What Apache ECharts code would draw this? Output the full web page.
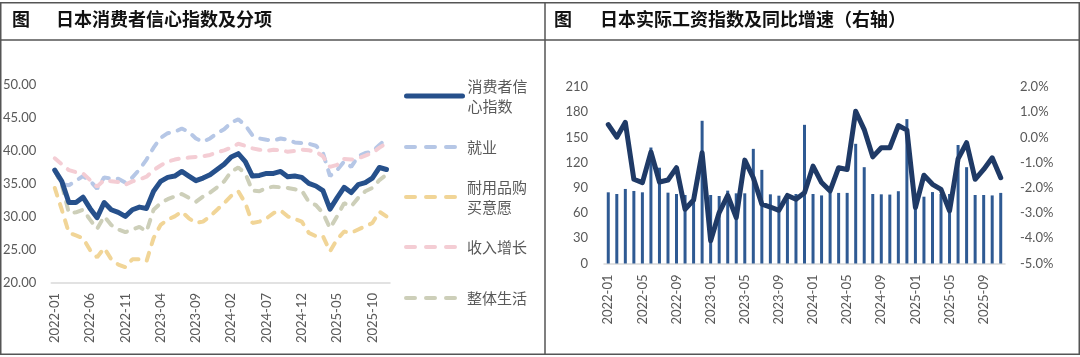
<!DOCTYPE html>
<html><head><meta charset="utf-8">
<script src="https://cdn.jsdelivr.net/npm/echarts@6/dist/echarts.min.js"></script>
<style>html,body{margin:0;padding:0;background:#fff}#c{width:1080px;height:357px}</style>
</head><body><div id="c"></div>
<script>
// ---------- Left chart: 日本消费者信心指数及分项 ----------
const leftMonths = ['2022-01','2022-02','2022-03','2022-04','2022-05','2022-06','2022-07','2022-08','2022-09','2022-10','2022-11','2022-12',
'2023-01','2023-02','2023-03','2023-04','2023-05','2023-06','2023-07','2023-08','2023-09','2023-10','2023-11','2023-12',
'2024-01','2024-02','2024-03','2024-04','2024-05','2024-06','2024-07','2024-08','2024-09','2024-10','2024-11','2024-12',
'2025-01','2025-02','2025-03','2025-04','2025-05','2025-06','2025-07','2025-08','2025-09','2025-10','2025-11','2025-12'];
const confidence = [37.1,35.4,32.2,32.2,33.0,31.3,29.9,32.2,31.1,30.7,30.1,31.1,31.5,31.3,33.9,35.4,36.0,36.2,36.9,36.2,35.5,35.9,36.4,37.2,38.0,39.1,39.6,38.4,36.2,36.3,36.6,36.6,36.9,36.1,36.2,36.0,35.1,34.7,34.0,31.2,32.9,34.5,33.7,34.9,35.2,35.9,37.5,37.2];
const employment = [37.0,35.0,34.8,35.5,36.2,35.5,34.3,36.0,35.8,35.8,35.2,36.0,37.2,38.7,40.5,42.0,42.7,42.9,43.4,42.9,41.9,41.4,41.9,42.7,43.3,44.3,44.8,43.9,42.4,41.9,41.7,41.6,41.9,41.7,41.3,41.2,41.1,40.8,39.7,36.2,37.1,38.4,37.6,39.2,39.7,39.9,40.9,41.9];
const durable = [34.4,31.1,27.6,27.2,26.8,25.0,23.9,25.3,23.6,22.8,22.4,23.6,23.6,23.3,26.8,28.8,29.6,30.1,30.8,29.8,29.1,29.3,30.1,31.1,32.1,33.2,33.9,32.1,29.1,29.3,29.8,30.6,31.0,30.1,29.7,29.3,27.6,27.1,27.1,24.8,26.6,27.8,27.6,28.1,28.6,29.1,30.8,30.1];
const income = [38.9,38.0,37.1,36.8,36.6,35.6,34.6,35.6,35.4,35.3,34.9,35.4,35.7,36.1,37.1,37.8,38.4,38.7,38.9,39.0,39.1,39.2,39.4,39.8,40.1,40.5,41.1,40.8,40.4,40.2,40.0,40.2,40.1,39.9,40.0,40.2,40.1,39.9,39.2,37.6,37.9,38.8,38.7,38.9,39.3,39.7,40.5,41.2];
const overall = [37.1,34.9,30.6,30.7,31.1,29.6,28.2,30.1,28.8,28.1,27.7,28.1,28.5,27.8,31.1,32.1,32.7,33.1,33.5,32.9,32.3,33.1,33.7,34.5,35.4,36.9,37.5,36.6,34.0,33.9,34.4,34.6,34.5,34.4,34.2,34.0,32.3,31.8,30.6,28.3,30.1,32.1,31.6,32.9,33.9,34.4,35.6,36.4];

// ---------- Right chart: 日本实际工资指数及同比增速 ----------
const rightMonths = ['2022-01','2022-02','2022-03','2022-04','2022-05','2022-06','2022-07','2022-08','2022-09','2022-10','2022-11','2022-12',
'2023-01','2023-02','2023-03','2023-04','2023-05','2023-06','2023-07','2023-08','2023-09','2023-10','2023-11','2023-12',
'2024-01','2024-02','2024-03','2024-04','2024-05','2024-06','2024-07','2024-08','2024-09','2024-10','2024-11','2024-12',
'2025-01','2025-02','2025-03','2025-04','2025-05','2025-06','2025-07','2025-08','2025-09','2025-10','2025-11'];
const wageIndex = [84.7,82.7,88.7,86.3,84.7,138,114,84.3,82.7,81.5,82.7,169.8,81.5,80.3,86.7,83.5,83.5,136.4,111.4,82.3,80.7,80.5,82.7,165,82.7,81,84,84,84,142.4,114.6,82.7,82.3,82,86,171.8,82.7,79.5,85,82.7,82.7,141,114.6,81.5,81.5,81,84];
const wageYoY = [0.51,0.01,0.60,-1.66,-1.79,-0.58,-1.77,-1.69,-1.20,-2.85,-2.48,-0.61,-4.10,-2.98,-2.30,-3.18,-0.90,-1.60,-2.65,-2.76,-2.89,-2.30,-2.45,-2.19,-1.14,-1.79,-2.12,-1.20,-1.27,1.04,0.31,-0.77,-0.41,-0.41,0.47,0.29,-2.78,-1.50,-1.86,-2.06,-2.91,-0.85,-0.21,-1.66,-1.27,-0.81,-1.60];

const leftTitle = '日本消费者信心指数及分项';
const rightTitle = '日本实际工资指数及同比增速（右轴）';

const axisFont = 'Lato, "Noto Sans", sans-serif';
const cjkFont = '"Noto Sans CJK SC", sans-serif';
const grey = '#595959';

const legendText = {
  '消费者信心指数': '消费者信\n心指数',
  '耐用品购买意愿': '耐用品购\n买意愿'
};
function mkLegend(name, top, two, solid) {
  return {
    left: 404, top: top, padding: 0, itemWidth: 56, itemHeight: 14, itemGap: 0,
    data: [two ? {name: name, textStyle: {padding: [20, 0, 0, 0]}} : name],
    formatter: n => legendText[n] || n,
    itemStyle: {opacity: 0},
    lineStyle: solid ? {width: 5, type: 'solid', cap: 'round'} : {width: 4, type: [9, 11], cap: 'round'},
    textStyle: {color: grey, fontSize: 15, lineHeight: 20, fontFamily: cjkFont}
  };
}
function dashed(name, data, color) {
  return {name, type: 'line', xAxisIndex: 0, yAxisIndex: 0, data, symbol: 'none', z: 2,
    lineStyle: {color, width: 4, type: [8, 9], cap: 'round'}, itemStyle: {color}};
}

const chart = echarts.init(document.getElementById('c'), null, {renderer: 'canvas'});
chart.setOption({
  animation: false,
  backgroundColor: '#fff',
  grid: [
    {left: 50, right: 690, top: 85, bottom: 74},
    {left: 604, right: 75, top: 87, bottom: 93.5}
  ],
  legend: [
    mkLegend('消费者信心指数', 66, true, true),
    mkLegend('就业', 137, false, false),
    mkLegend('耐用品购买意愿', 167, true, false),
    mkLegend('收入增长', 237, false, false),
    mkLegend('整体生活', 288, false, false)
  ],
  xAxis: [
    {type: 'category', gridIndex: 0, data: leftMonths, boundaryGap: true,
     axisLine: {lineStyle: {color: '#d9d9d9', width: 1.5}}, axisTick: {show: false},
     axisLabel: {interval: 4, rotate: 90, color: grey, fontFamily: axisFont, fontSize: 13, margin: 10}},
    {type: 'category', gridIndex: 1, data: rightMonths, boundaryGap: true,
     axisLine: {lineStyle: {color: '#d9d9d9', width: 1.5}}, axisTick: {show: false},
     axisLabel: {interval: 3, rotate: 90, color: grey, fontFamily: axisFont, fontSize: 13, margin: 11}}
  ],
  yAxis: [
    {type: 'value', gridIndex: 0, min: 20, max: 50, interval: 5,
     axisLine: {show: false}, axisTick: {show: false}, splitLine: {show: false},
     axisLabel: {formatter: v => v.toFixed(2), color: grey, fontFamily: axisFont, fontSize: 13, margin: 15}},
    {type: 'value', gridIndex: 1, min: 0, max: 210, interval: 30,
     axisLine: {show: false}, axisTick: {show: false}, splitLine: {show: false},
     axisLabel: {color: grey, fontFamily: axisFont, fontSize: 13, margin: 16}},
    {type: 'value', gridIndex: 1, position: 'right', min: -5, max: 2, interval: 1,
     axisLine: {show: false}, axisTick: {show: false}, splitLine: {show: false},
     axisLabel: {formatter: v => v.toFixed(1) + '%', color: grey, fontFamily: axisFont, fontSize: 13, margin: 15}}
  ],
  series: [
    dashed('就业', employment, '#b6c7e6'),
    dashed('耐用品购买意愿', durable, '#f1d597'),
    dashed('收入增长', income, '#f4cdd4'),
    dashed('整体生活', overall, '#cdcfb9'),
    {name: '消费者信心指数', type: 'line', xAxisIndex: 0, yAxisIndex: 0, data: confidence, symbol: 'none', z: 5,
     lineStyle: {color: '#26508b', width: 5, cap: 'round', join: 'round'}, itemStyle: {color: '#26508b'}},
    {name: '实际工资指数', type: 'bar', xAxisIndex: 1, yAxisIndex: 1, data: wageIndex, barWidth: 3,
     itemStyle: {color: '#2f5a93'}},
    {name: '同比增速', type: 'line', xAxisIndex: 1, yAxisIndex: 2, data: wageYoY, symbol: 'none', z: 5,
     lineStyle: {color: '#1f3a66', width: 5, join: 'round', cap: 'round'}, itemStyle: {color: '#1f3a66'}}
  ],
  graphic: [
    {type: 'rect', shape: {x: 0.75, y: 2.75, width: 1078.5, height: 351.5}, style: {fill: 'none', stroke: '#555', lineWidth: 1.5}, silent: true},
    {type: 'line', shape: {x1: 0, y1: 40, x2: 1080, y2: 40}, style: {stroke: '#555', lineWidth: 1.5}, silent: true},
    {type: 'line', shape: {x1: 545, y1: 2, x2: 545, y2: 355}, style: {stroke: '#555', lineWidth: 1.5}, silent: true},
    {type: 'text', left: 12, top: 10, style: {text: '图', font: 'bold 18px "Noto Sans CJK SC"', fill: '#111'}},
    {type: 'text', left: 56, top: 10, style: {text: leftTitle, font: 'bold 18px "Noto Sans CJK SC"', fill: '#111'}},
    {type: 'text', left: 554, top: 10, style: {text: '图', font: 'bold 18px "Noto Sans CJK SC"', fill: '#111'}},
    {type: 'text', left: 600, top: 10, style: {text: rightTitle, font: 'bold 18px "Noto Sans CJK SC"', fill: '#111'}}
  ]
});
</script></body></html>
